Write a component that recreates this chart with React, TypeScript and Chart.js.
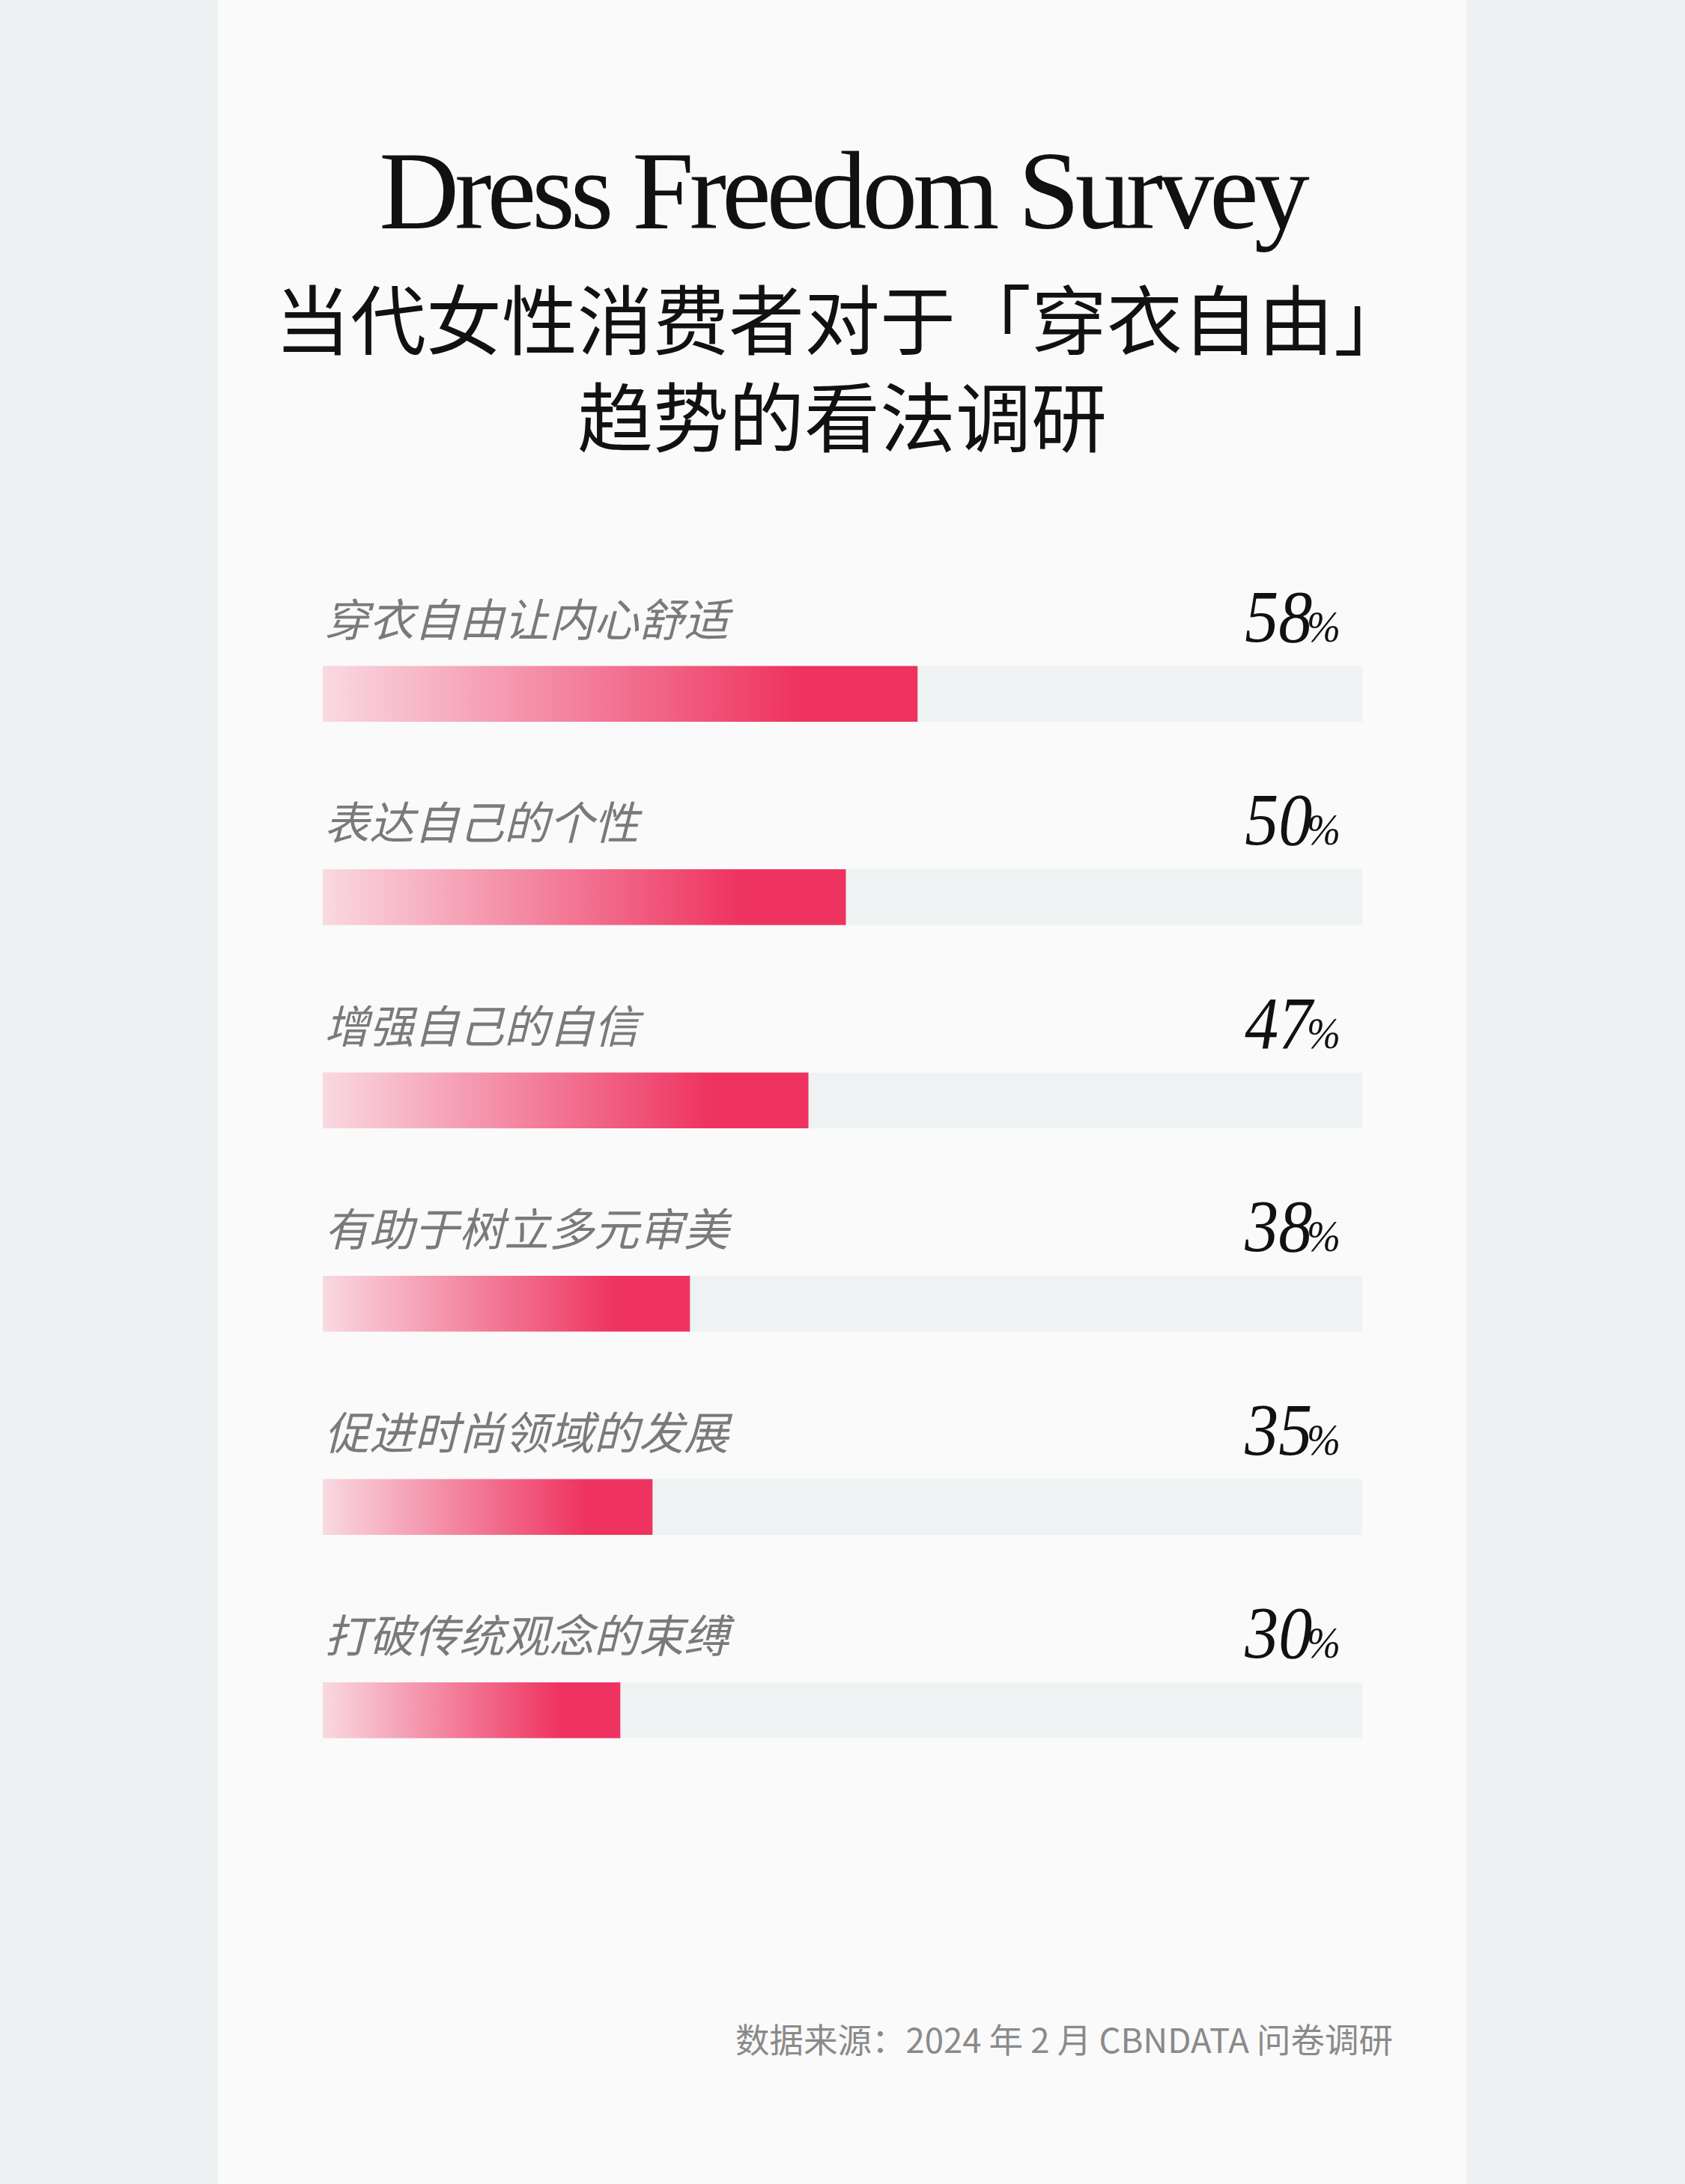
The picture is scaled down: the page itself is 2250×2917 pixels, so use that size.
import { useEffect, useRef } from 'react';
import { Chart, registerables } from 'chart.js';

Chart.register(...registerables);

const categories = [
  '穿衣自由让内心舒适',
  '表达自己的个性',
  '增强自己的自信',
  '有助于树立多元审美',
  '促进时尚领域的发展',
  '打破传统观念的束缚',
];
// printed shares (%)
const shares = [58, 50, 47, 38, 35, 30];
// bar lengths as drawn in the picture, on the 0–100 track
const barValues = [57.2, 50.3, 46.7, 35.3, 31.7, 28.6];
const trackMax = 100;

const TITLE_EN = 'Dress Freedom Survey';
const TITLE_CN = ['当代女性消费者对于「穿衣自由」', '趋势的看法调研'];
const SOURCE = '数据来源：2024 年 2 月 CBNDATA 问卷调研';

const CJK = '"Noto Sans CJK SC", "Noto Sans", sans-serif';
const SERIF = '"Liberation Serif", "DejaVu Serif", serif';

const labelPlugin = {
  id: 'rowLabels',
  afterDatasetsDraw(chart: Chart) {
    const { ctx, chartArea } = chart;
    const meta = chart.getDatasetMeta(0);
    ctx.save();
    meta.data.forEach((bar: any, i: number) => {
      const top = bar.y - 37;
      // category label
      ctx.font = `italic 400 60px ${CJK}`;
      ctx.fillStyle = '#7a7a7a';
      ctx.textAlign = 'left';
      ctx.textBaseline = 'alphabetic';
      ctx.fillText(categories[i], chartArea.left + 2, top - 40);

      // percentage: big digits + small %, slightly condensed
      const right = chartArea.right - 29;
      ctx.fillStyle = '#111';
      ctx.save();
      ctx.translate(right, top - 33);
      ctx.scale(0.9, 1);
      ctx.font = `italic 400 60px ${SERIF}`;
      ctx.textAlign = 'right';
      const pw = ctx.measureText('%').width;
      ctx.fillText('%', 0, 0);
      ctx.font = `italic 400 100px ${SERIF}`;
      ctx.fillText(String(shares[i]), -pw + 8, 0);
      ctx.restore();
    });
    ctx.restore();
  },
};

function SurveyBars() {
  const canvasRef = useRef<HTMLCanvasElement>(null);
  const chartRef = useRef<Chart | null>(null);

  useEffect(() => {
    if (!canvasRef.current) return;
    if (chartRef.current) chartRef.current.destroy();

    chartRef.current = new Chart(canvasRef.current, {
      type: 'bar',
      data: {
        labels: categories,
        datasets: [
          {
            label: 'share',
            data: barValues,
            grouped: false,
            order: 0,
            barThickness: 74,
            borderWidth: 0,
            backgroundColor: (c: any) => {
              const chart = c.chart;
              const x = chart.scales?.x;
              if (!x || !chart.chartArea) return '#ee3360';
              const x0 = x.getPixelForValue(0);
              const x1 = x.getPixelForValue(barValues[c.dataIndex] ?? 0);
              const g = chart.ctx.createLinearGradient(x0, 0, x1, 0);
              g.addColorStop(0, '#f9d9e1');
              g.addColorStop(0.8, '#ee3360');
              g.addColorStop(1, '#ee3360');
              return g;
            },
          },
          {
            label: 'track',
            data: categories.map(() => trackMax),
            grouped: false,
            order: 1,
            barThickness: 74,
            borderWidth: 0,
            backgroundColor: '#eff2f2',
          },
        ],
      },
      options: {
        indexAxis: 'y',
        responsive: true,
        maintainAspectRatio: false,
        animation: false,
        layout: { padding: { left: 140, right: 139, top: 91, bottom: 0 } },
        plugins: {
          legend: { display: false },
          tooltip: { enabled: false },
        },
        scales: {
          x: { min: 0, max: trackMax, display: false },
          y: { display: false },
        },
      },
      plugins: [labelPlugin],
    });

    return () => {
      chartRef.current?.destroy();
      chartRef.current = null;
    };
  }, []);

  return (
    <div style={{ position: 'absolute', left: 291, top: 700, width: 1667, height: 1720 }}>
      <canvas ref={canvasRef} />
    </div>
  );
}

export default function App() {
  return (
    <div
      style={{
        position: 'absolute',
        left: 0,
        top: 0,
        width: 2250,
        height: 2917,
        overflow: 'hidden',
        background: '#eef1f1',
      }}
    >
      <div style={{ position: 'absolute', left: 291, top: 0, width: 1667, height: 2917, background: '#fafafa' }}>
        <div
          style={{
            position: 'absolute',
            left: 0,
            top: 181,
            width: '100%',
            textAlign: 'center',
            fontFamily: SERIF,
            fontSize: 148,
            lineHeight: '148px',
            letterSpacing: -6,
            color: '#111',
            whiteSpace: 'nowrap',
          }}
        >
          {TITLE_EN}
        </div>
        <div
          style={{
            position: 'absolute',
            left: 0,
            top: 357,
            width: '100%',
            textAlign: 'center',
            fontFamily: CJK,
            fontSize: 101,
            lineHeight: '130px',
            color: '#111',
            whiteSpace: 'nowrap',
          }}
        >
          {TITLE_CN.map((t) => (
            <div key={t}>{t}</div>
          ))}
        </div>
        <div
          style={{
            position: 'absolute',
            right: 1958 - 1860,
            top: 2699,
            fontFamily: CJK,
            fontSize: 45.5,
            lineHeight: '46px',
            color: '#8a8a8a',
            whiteSpace: 'nowrap',
          }}
        >
          {SOURCE}
        </div>
      </div>
      <SurveyBars />
    </div>
  );
}
